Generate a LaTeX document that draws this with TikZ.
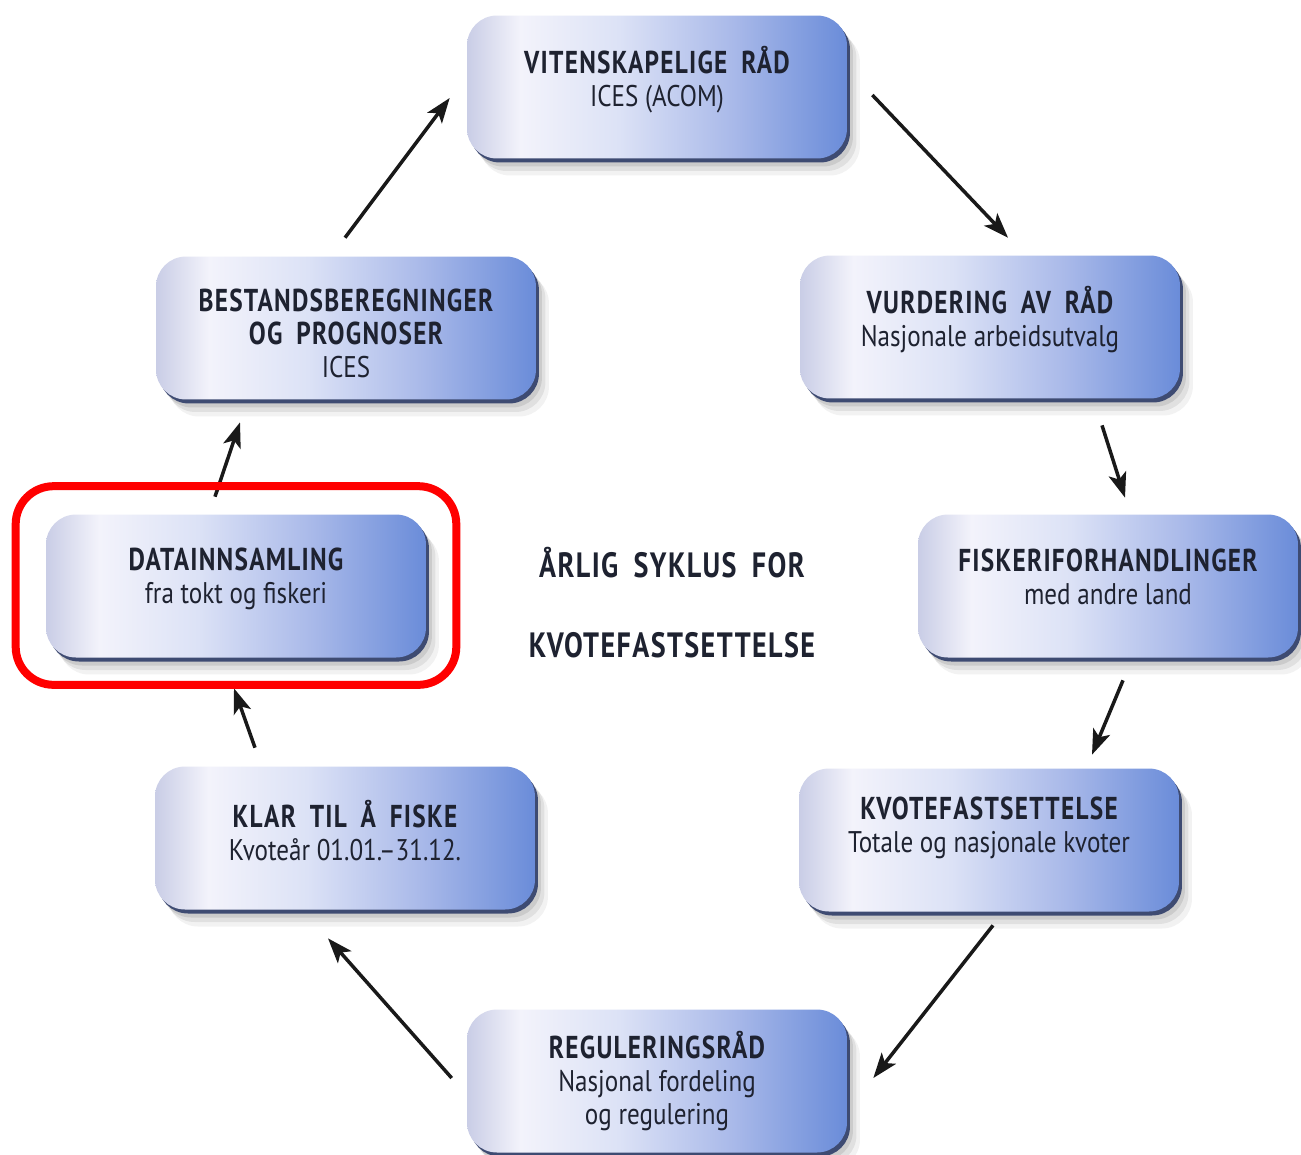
\documentclass[tikz,border=0pt]{standalone}
\usepackage{fontspec}
\setmainfont{PT Sans}
\newfontfamily\ttlfont[FakeStretch=0.8,LetterSpace=4,WordSpace=1.8]{PT Sans}
\newfontfamily\subfont[FakeStretch=0.84]{PT Sans}
\usetikzlibrary{arrows.meta,calc}
\definecolor{bA}{HTML}{C9CDE6}
\definecolor{bB}{HTML}{F3F3FB}
\definecolor{bC}{HTML}{DCE2F6}
\definecolor{bD}{HTML}{A9B9E9}
\definecolor{bE}{HTML}{6A8CD9}
\definecolor{rim}{HTML}{3E4B72}
\definecolor{txt}{HTML}{1E2230}
\definecolor{hl}{HTML}{FF0000}
\pgfdeclarehorizontalshading{boxshade}{100bp}{color(0bp)=(bA); color(25bp)=(bA); color(32bp)=(bB); color(45bp)=(bC); color(60bp)=(bD); color(75bp)=(bE); color(100bp)=(bE)}
\tikzset{
  stage/.style={shape=rectangle, rounded corners=0.6cm, minimum width=7.6cm, minimum height=2.86cm,
    inner sep=0pt,
    preaction={fill=black, fill opacity=0.05, transform canvas={shift={(0.26cm,-0.34cm)}}},
    preaction={fill=black, fill opacity=0.07, transform canvas={shift={(0.19cm,-0.25cm)}}},
    preaction={fill=black, fill opacity=0.09, transform canvas={shift={(0.12cm,-0.16cm)}}},
    preaction={fill=rim, transform canvas={shift={(0.06cm,-0.08cm)}}},
    shade, shading=boxshade},
  stagetext/.style={align=center, text=txt, inner sep=0pt, font=\fontsize{18pt}{18.8pt}\selectfont},
  ttl/.style={font=\fontsize{20pt}{22pt}\selectfont\ttlfont\bfseries, text=txt, align=center},
  arr/.style={line width=0.07cm, draw=black!90, -{Stealth[length=0.5cm,width=0.36cm,inset=0.12cm]}},
  hlbox/.style={draw=hl, line width=0.16cm, rounded corners=0.76cm}
}
\newcommand{\boxttl}[1]{{\ttlfont\bfseries #1}}
\newcommand{\boxsub}[1]{{\subfont\fontsize{17pt}{18.8pt}\selectfont #1}}
\begin{document}
\begin{tikzpicture}[x=0.02cm,y=-0.02cm]
\useasboundingbox[fill=white] (0,0) rectangle (1301,1154);
\node[stage] (viten)   at (657,87)   {};
\node[stage] (vurd)    at (990,327)  {};
\node[stage] (fiskeri) at (1108,586) {};
\node[stage] (kvote)   at (989,840)  {};
\node[stage] (regul)   at (657,1081) {};
\node[stage] (klar)    at (345,838)  {};
\node[stage] (data)    at (236,586)  {};
\node[stage] (bestand) at (346,328)  {};
\node[stagetext] (viten-t)   at ($(viten)+(0,-7)$)   {\boxttl{VITENSKAPELIGE RÅD}\\\boxsub{ICES (ACOM)}};
\node[stagetext] (vurd-t)    at ($(vurd)+(0,-7)$)    {\boxttl{VURDERING AV RÅD}\\\boxsub{Nasjonale arbeidsutvalg}};
\node[stagetext] (fiskeri-t) at ($(fiskeri)+(0,-9)$) {\boxttl{FISKERIFORHANDLINGER}\\\boxsub{med andre land}};
\node[stagetext] (kvote-t)   at ($(kvote)+(0,-12)$)  {\boxttl{KVOTEFASTSETTELSE}\\\boxsub{Totale og nasjonale kvoter}};
\node[stagetext] (regul-t)   at ($(regul)+(0,0)$)    {\boxttl{REGULERINGSRÅD}\\\boxsub{Nasjonal fordeling}\\\boxsub{og regulering}};
\node[stagetext] (klar-t)    at ($(klar)+(0,-7)$)    {\boxttl{KLAR TIL Å FISKE}\\\boxsub{Kvoteår 01.01.–31.12.}};
\node[stagetext] (data-t)    at ($(data)+(0,-7)$)    {\boxttl{DATAINNSAMLING}\\\boxsub{fra tokt og fiskeri}};
\node[stagetext] (bestand-t) at ($(bestand)+(0,5)$)  {\boxttl{BESTANDSBEREGNINGER}\\\boxttl{OG PROGNOSER}\\\boxsub{ICES}};
\node[ttl] (c1) at (672,563) {ÅRLIG SYKLUS FOR};
\node[ttl] (c2) at (672,645) {KVOTEFASTSETTELSE};
\draw[arr] ($(bestand.north)+(-1,-18.5)$) -- ($(viten.west)+(-17,11)$);
\draw[arr] ($(viten.east)+(25,8)$) -- ($(vurd.north)+(18,-17.5)$);
\draw[arr] ($(vurd.south)+(112,26.5)$) -- ($(fiskeri.north)+(17,-16.5)$);
\draw[arr] ($(fiskeri.south)+(15,22.5)$) -- ($(kvote.north)+(103,-13.5)$);
\draw[arr] ($(kvote.south)+(4,13.5)$) -- ($(regul.east)+(26,-3)$);
\draw[arr] ($(regul.west)+(-15,-3)$) -- ($(klar.south)+(-17,28.5)$);
\draw[arr] ($(klar.north)+(-90,-18.5)$) -- ($(data.south)+(-2,30.5)$);
\draw[arr] ($(data.north)+(-21,-17.5)$) -- ($(bestand.south)+(-106,22.5)$);
\draw[hlbox] ($(data.north west)+(-30,-28)$) rectangle ($(data.south east)+(30,27)$);
\end{tikzpicture}
\end{document}
